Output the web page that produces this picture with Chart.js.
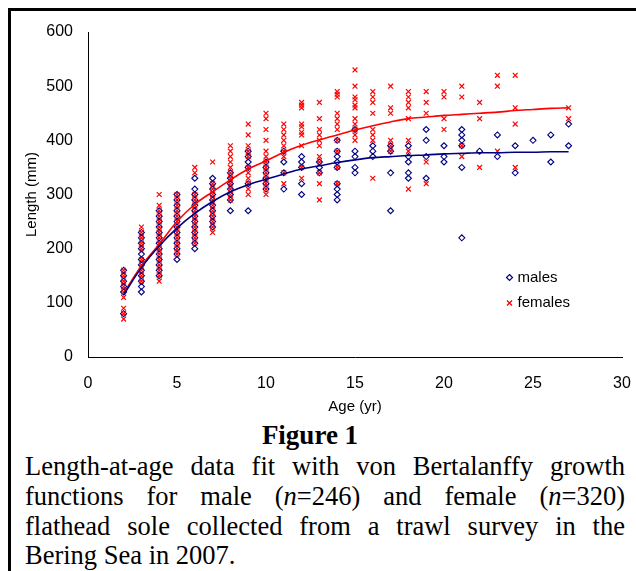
<!DOCTYPE html>
<html>
<head>
<meta charset="utf-8">
<script src="https://cdn.jsdelivr.net/npm/chart.js"></script>
<style>
  html, body { margin: 0; padding: 0; background: #fff; }
  body { width: 636px; height: 571px; position: relative; overflow: hidden; }
  #frame { position: absolute; left: 8px; top: 8px; width: 700px; height: 700px; border: 3px solid #000; box-sizing: border-box; }
  #wrap { position: absolute; left: 0; top: 0; width: 636px; height: 420px; }
  #figtitle { position: absolute; left: 0; top: 420px; width: 620px; text-align: center; font: bold 27px "Liberation Serif", serif; }
  .cap { position: absolute; left: 25px; width: 600px; font: 26.5px "Liberation Serif", serif; line-height: 30px; white-space: nowrap; }
  .just { text-align: justify; text-align-last: justify; white-space: normal; }
</style>
</head>
<body>
<div id="frame"></div>
<div id="wrap"><canvas id="c" width="636" height="420"></canvas></div>
<div id="figtitle">Figure 1</div>
<div class="cap just" style="top:451px">Length-at-age data fit with von Bertalanffy growth</div>
<div class="cap just" style="top:481px">functions for male (<i>n</i>=246) and female (<i>n</i>=320)</div>
<div class="cap just" style="top:511px">flathead sole collected from a trawl survey in the</div>
<div class="cap" style="top:540px">Bering Sea in 2007.</div>
<script>
// ---- data ----
const ages = [2,3,4,5,6,7,8,9,10,11,12,13,14,15,16,17,18,19,20,21,22,23,24,25,26,27];

const maleLengths = [
  [80,120,130,140,150,160],
  [120,130,140,150,160,170,180,190,200,210,220,230],
  [150,160,170,180,190,200,210,220,230,240,250,260,270],
  [180,190,200,210,220,230,240,250,260,270,280,290,300],
  [200,210,220,230,240,250,260,270,280,290,300,310,330],
  [240,250,260,270,280,290,300,310,320,330],
  [270,290,300,310,320,330,340],
  [270,320,350,360,370,380],
  [310,320,330,340,350,360],
  [310,340,360,380],
  [300,320,350,360,370],
  [340,350,360],
  [290,300,310,320,350,360,370,380,400],
  [340,350,370,380,420],
  [370,380,390],
  [270,340,380,390],
  [330,340,360,370,390],
  [330,370,400,420],
  [360,370,390],
  [220,350,390,400,410,420],
  [380],
  [370,410],
  [340,390],
  [400],
  [360,410],
  [390,430]
];

const femaleLengths = [
  [70,80,90,110,120,130,140,150,160],
  [140,150,160,170,180,200,210,220,230,240],
  [140,150,160,170,180,190,200,210,220,230,240,250,260,270,280,300],
  [190,200,210,220,230,240,250,260,270,280,290,300],
  [210,220,230,240,250,260,270,280,290,300,340,350],
  [230,240,250,260,270,280,290,300,310,320,360],
  [290,300,310,320,330,340,350,360,370,380,390],
  [300,310,320,330,340,350,370,380,390,410,430],
  [300,310,320,330,340,350,360,370,380,400,420,440,450],
  [320,340,370,380,390,400,410,420,430],
  [330,350,390,410,415,425,430,460,465,470],
  [290,320,340,360,370,390,400,410,420,440,470],
  [320,350,380,400,420,430,440,450,480,485,490],
  [400,410,420,430,440,460,465,475,480,500,530],
  [330,400,410,420,450,470,480,490],
  [380,390,400,450,460,500],
  [310,380,400,440,460,470,480,490],
  [320,360,450,470,490],
  [420,440,480,490],
  [370,390,480,500],
  [350,440,470],
  [380,500,520],
  [350,430,460,520],
  [],
  [],
  [440,460]
];

// von Bertalanffy fitted curves at each age
const maleFit   = [115,165,205,238,265,287,305,318,328,338,347,353,359,364,368,370,372,373,375,376,377,377,378,378,379,379];
const femaleFit = [118,168,208,250,282,305,327,347,362,378,391,401,410,419,427,434,440,443,446,448,450,452,455,457,459,460];

const xTicks = [0,5,10,15,20,25,30];
const yTicks = [0,100,200,300,400,500,600];
const legendLabels = ['males','females'];

// ---- build datasets ----
function toPoints(lists) {
  const pts = [];
  lists.forEach((arr, i) => arr.forEach(v => pts.push({x: ages[i], y: v})));
  return pts;
}
const NAVY = '#000080', RED = '#ff0000';

const legendPlugin = {
  id: 'insideLegend',
  afterDraw(chart) {
    const ctx = chart.ctx;
    ctx.save();
    ctx.font = '15px "Liberation Sans", Arial, sans-serif';
    ctx.fillStyle = '#000';
    ctx.textBaseline = 'middle';
    ctx.textAlign = 'left';
    let mx = 509.5, my = 277.5;
    ctx.strokeStyle = NAVY; ctx.lineWidth = 1.2;
    ctx.beginPath();
    ctx.moveTo(mx, my - 3); ctx.lineTo(mx + 3, my); ctx.lineTo(mx, my + 3); ctx.lineTo(mx - 3, my); ctx.closePath();
    ctx.stroke();
    ctx.fillText(legendLabels[0], 517.5, my);
    let fx = 509.5, fy = 303;
    ctx.strokeStyle = RED; ctx.lineWidth = 1.3;
    ctx.beginPath();
    ctx.moveTo(fx - 2.5, fy - 2.5); ctx.lineTo(fx + 2.5, fy + 2.5);
    ctx.moveTo(fx + 2.5, fy - 2.5); ctx.lineTo(fx - 2.5, fy + 2.5);
    ctx.stroke();
    ctx.fillText(legendLabels[1], 517.5, fy);
    ctx.restore();
  }
};

new Chart(document.getElementById('c'), {
  type: 'scatter',
  data: {
    datasets: [
      {
        label: 'femaleFit', type: 'line',
        data: ages.map((a, i) => ({x: a, y: femaleFit[i]})),
        borderColor: RED, borderWidth: 1.6, pointRadius: 0, fill: false,
        cubicInterpolationMode: 'monotone', order: 1
      },
      {
        label: 'maleFit', type: 'line',
        data: ages.map((a, i) => ({x: a, y: maleFit[i]})),
        borderColor: NAVY, borderWidth: 1.6, pointRadius: 0, fill: false,
        cubicInterpolationMode: 'monotone', order: 0
      },
      {
        label: 'males',
        data: toPoints(maleLengths),
        pointStyle: 'rectRot', pointRadius: 3, pointBorderWidth: 1.1,
        borderColor: NAVY, backgroundColor: 'rgba(0,0,0,0)', order: 3
      },
      {
        label: 'females',
        data: toPoints(femaleLengths),
        pointStyle: 'crossRot', pointRadius: 3.4, pointBorderWidth: 1.2,
        borderColor: RED, backgroundColor: RED, order: 2
      }
    ]
  },
  options: {
    responsive: false,
    animation: false,
    devicePixelRatio: 1,
    layout: { padding: { left: 0, right: 14, top: 32, bottom: 0 } },
    plugins: { legend: { display: false }, tooltip: { enabled: false } },
    scales: {
      x: {
        type: 'linear', min: 0, max: 30,
        afterFit(s) { s.height = 63; s.paddingLeft = 0; s.paddingRight = 0; },
        afterBuildTicks(s) { s.ticks = xTicks.map(v => ({value: v})); },
        grid: { display: false, drawOnChartArea: false, drawTicks: true, tickLength: 6, tickColor: '#000' },
        border: { display: true, color: '#000', width: 1 },
        ticks: { color: '#000', padding: 11, maxRotation: 0, font: { family: '"Liberation Sans", Arial, sans-serif', size: 16 } },
        title: { display: true, text: 'Age (yr)', color: '#000', padding: { top: 0, bottom: 4 }, font: { family: '"Liberation Sans", Arial, sans-serif', size: 15 } }
      },
      y: {
        type: 'linear', min: 0, max: 600,
        afterFit(s) { s.width = 88; s.paddingTop = 0; s.paddingBottom = 0; },
        afterBuildTicks(s) { s.ticks = yTicks.map(v => ({value: v})); },
        grid: { display: false, drawOnChartArea: false, drawTicks: true, tickLength: 6, tickColor: '#000' },
        border: { display: true, color: '#000', width: 1 },
        ticks: { color: '#000', padding: 9, font: { family: '"Liberation Sans", Arial, sans-serif', size: 16 } },
        title: { display: true, text: 'Length (mm)', color: '#000', padding: { top: 23, bottom: 0 }, font: { family: '"Liberation Sans", Arial, sans-serif', size: 15 } }
      }
    }
  },
  plugins: [legendPlugin]
});
</script>
</body>
</html>
